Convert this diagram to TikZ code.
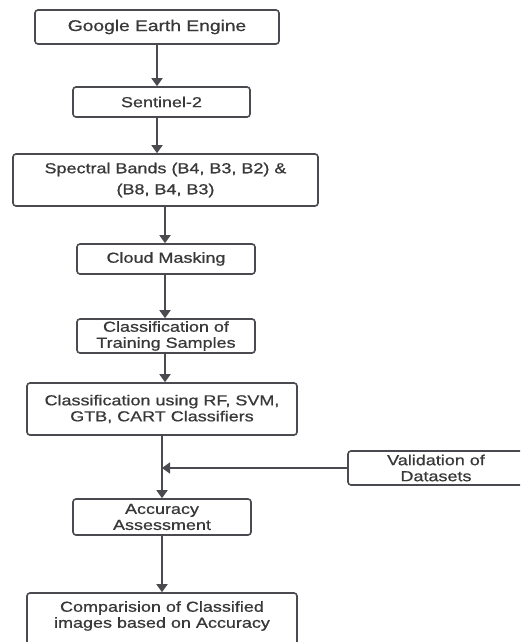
\documentclass[tikz,border=0pt]{standalone}
\usepackage{fontspec}
\setmainfont{Liberation Sans}[FakeStretch=1.24,FakeBold=0.7]
\usetikzlibrary{arrows.meta}
\definecolor{ln}{HTML}{4A4A50}
\definecolor{tx}{HTML}{383838}
\begin{document}
\begin{tikzpicture}[x=1pt,y=-1pt,
  box/.style={draw=ln, line width=1.6pt, rounded corners=3pt, minimum width=#1, inner sep=0pt, align=center, text=tx, font=\fontsize{14.5}{16}\selectfont},
  arr/.style={draw=ln, line width=1.6pt, -{Triangle[width=11pt,length=8pt]}}]
\useasboundingbox (0,0) rectangle (520,642);
\clip (0,0) rectangle (520,642);
\fill[white] (0,0) rectangle (520,642);

\node[box=244pt, minimum height=34pt, font=\fontsize{15.5}{17}\selectfont] (gee) at (157,27) {Google Earth Engine};
\node[box=177pt, minimum height=30pt] (s2) at (161.5,102) {Sentinel-2};
\node[box=305pt, minimum height=52pt, font=\fontsize{14.5}{21}\selectfont] (sb) at (165.5,180) {Spectral Bands (B4, B3, B2) \&\\(B8, B4, B3)};
\node[box=178pt, minimum height=30pt] (cm) at (166,259) {Cloud Masking};
\node[box=178pt, minimum height=34pt] (ts) at (166,336) {Classification of\\Training Samples};
\node[box=270pt, minimum height=52pt] (cl) at (162,409) {Classification using RF, SVM,\\GTB, CART Classifiers};
\node[box=176pt, minimum height=34pt] (val) at (436,468) {Validation of\\Datasets};
\node[box=178pt, minimum height=36pt] (acc) at (162,517) {Accuracy\\Assessment};
\node[box=270pt, minimum height=56pt, text depth=13pt] (cmp) at (162,621) {Comparision of Classified\\images based on Accuracy};

\coordinate (xa) at (157,0);
\coordinate (xb) at (165,0);
\coordinate (xc) at (162,0);
\coordinate (j) at (162,468);

\draw[arr] (gee.south -| xa) -- (s2.north -| xa);
\draw[arr] (s2.south -| xa) -- (sb.north -| xa);
\draw[arr] (sb.south -| xb) -- (cm.north -| xb);
\draw[arr] (cm.south -| xb) -- (ts.north -| xb);
\draw[arr] (ts.south -| xb) -- (cl.north -| xb);
\draw[arr] (cl.south -| xc) -- (acc.north -| xc);
\draw[arr] (val.west) -- (j);
\draw[arr] (acc.south -| xc) -- (cmp.north -| xc);
\end{tikzpicture}
\end{document}
